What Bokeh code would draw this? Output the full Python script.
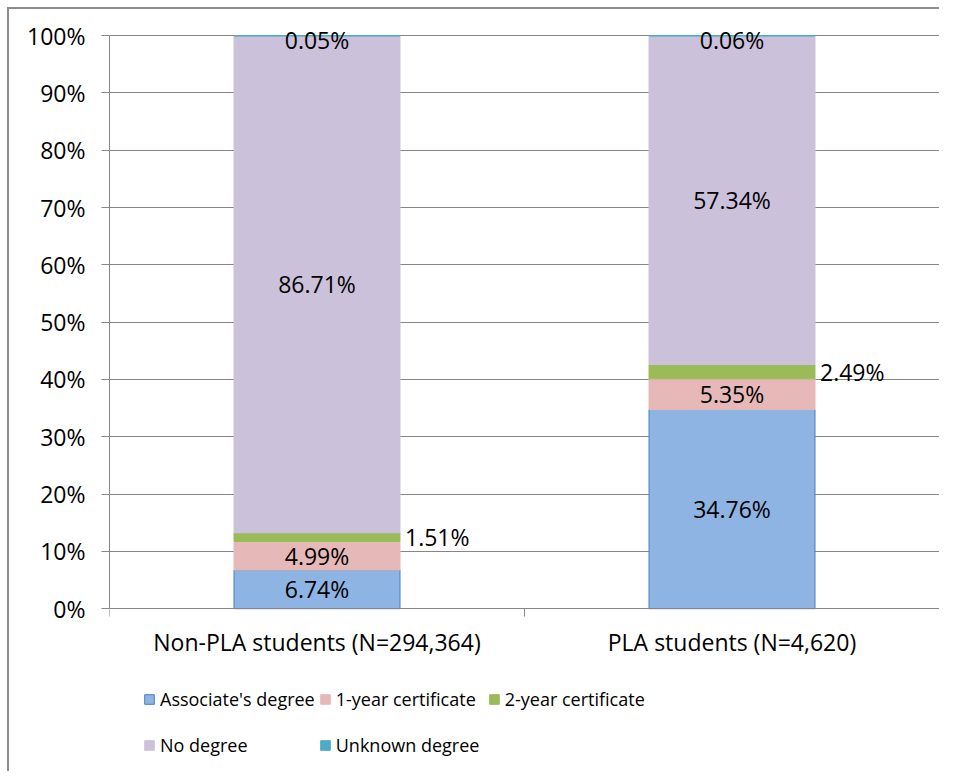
from bokeh.plotting import figure
from bokeh.models import (Range1d, LinearAxis, FixedTicker,
                          ColumnDataSource, Legend, LegendItem, CustomJSTickFormatter)
from bokeh.core.properties import value
from bokeh.embed import file_html
from bokeh.resources import INLINE

# ---- data ----
categories = ["Non-PLA students (N=294,364)", "PLA students (N=4,620)"]
series = ["Associate's degree", "1-year certificate", "2-year certificate", "No degree", "Unknown degree"]
associates = [6.74, 34.76]
one_year = [4.99, 5.35]
two_year = [1.51, 2.49]
no_degree = [86.71, 57.34]
unknown = [0.05, 0.06]
y_ticks = [0, 10, 20, 30, 40, 50, 60, 70, 80, 90, 100]

colors = ["#8EB4E3", "#E6B9B8", "#9BBB59", "#CCC1DA", "#4BACC6"]
line_colors = ["#4A7EBB", "#E6B9B8", "#9BBB59", "#CCC1DA", "#4BACC6"]
keys = ["a", "b", "c", "d", "e"]
FONT = "Open Sans"
FS = "23px"
LEG_FS = "18px"
BAR_W = 0.4

ncat = len(categories)
xpos = [i + 0.5 for i in range(ncat)]
data = dict(x=xpos, a=associates, b=one_year, c=two_year, d=no_degree, e=unknown)
src = ColumnDataSource(data)

p = figure(x_range=Range1d(0, ncat), y_range=Range1d(-28.07, 101.6),
           output_backend="svg", toolbar_location=None,
           width=930, height=762, frame_width=830, frame_height=743,
           min_border_left=100, min_border_top=17, min_border_right=0, min_border_bottom=2,
           x_axis_location=None, y_axis_location=None)
p.styles = {"border-left": "2px solid #8c8c8c", "border-top": "2px solid #8c8c8c",
            "border-right": "none", "border-bottom": "none", "outline": "none",
            "margin-left": "7px", "margin-top": "7px"}
p.outline_line_color = None
p.background_fill_color = "white"
p.border_fill_color = "white"

renderers = p.vbar_stack(keys, x="x", width=BAR_W, source=src, fill_color=colors,
                         line_color=line_colors, line_width=1)

# y axis
yax = LinearAxis(ticker=FixedTicker(ticks=y_ticks), bounds=(0, 100),
                 formatter=CustomJSTickFormatter(code="return tick.toFixed(0) + '%';"))
yax.axis_line_color = "#868686"
yax.major_tick_line_color = "#868686"
yax.major_tick_in = 0
yax.major_tick_out = 8
yax.minor_tick_line_color = None
yax.major_label_text_font = FONT
yax.major_label_text_font_size = FS
yax.major_label_text_color = "black"
yax.major_label_standoff = 16
p.add_layout(yax, "left")

# x tick marks at category boundaries (drawn on the 0% line)
xticks = LinearAxis(ticker=FixedTicker(ticks=list(range(ncat + 1))), fixed_location=0)
xticks.axis_line_color = "#868686"
xticks.major_tick_line_color = "#868686"
xticks.major_tick_in = 0
xticks.major_tick_out = 8
xticks.minor_tick_line_color = None
xticks.major_label_text_font_size = "0px"
xticks.major_label_standoff = 0
p.add_layout(xticks, "below")

# category labels
xax = LinearAxis(ticker=FixedTicker(ticks=xpos), fixed_location=0,
                 major_label_overrides={x: c for x, c in zip(xpos, categories)})
xax.axis_line_color = None
xax.major_tick_line_color = None
xax.major_tick_out = 0
xax.major_tick_in = 0
xax.minor_tick_line_color = None
xax.major_label_text_font = FONT
xax.major_label_text_font_size = FS
xax.major_label_text_color = "black"
xax.major_label_standoff = 17
p.add_layout(xax, "below")

p.xgrid.grid_line_color = None
p.ygrid.ticker = FixedTicker(ticks=y_ticks)
p.ygrid.grid_line_color = "#868686"

# labels
cum = [0.0] * ncat
inner = dict(x=[], y=[], t=[], dy=[])
side = dict(x=[], y=[], t=[])
vals = [associates, one_year, two_year, no_degree, unknown]
for si, v in enumerate(vals):
    for ci in range(ncat):
        yc = cum[ci] + v[ci] / 2
        t = f"{v[ci]:.2f}%"
        if si == 2:
            side["x"].append(xpos[ci] + BAR_W / 2)
            side["y"].append(yc)
            side["t"].append(t)
        else:
            inner["x"].append(xpos[ci])
            inner["y"].append(yc)
            inner["t"].append(t)
            inner["dy"].append(4 if si == 4 else 0)
        cum[ci] += v[ci]

p.text(x="x", y="y", text="t", y_offset="dy", source=ColumnDataSource(inner), text_align="center",
       text_baseline="middle", text_font=value(FONT), text_font_size=FS, text_color="black")
p.text(x="x", y="y", text="t", source=ColumnDataSource(side),
       x_offset=5, text_align="left", text_baseline="middle", text_font=value(FONT),
       text_font_size=FS, text_color="black")

# legend
items = [LegendItem(label=s, renderers=[r]) for s, r in zip(series, renderers)]
legend = Legend(items=items, location=(34, 3), orientation="horizontal", ncols=3)
legend.label_text_font = FONT
legend.label_text_font_size = LEG_FS
legend.label_text_color = "black"
legend.glyph_width = 12
legend.glyph_height = 12
legend.label_standoff = 5
legend.label_width = 148
legend.label_height = 42
legend.spacing = 4
legend.padding = 0
legend.margin = 0
legend.border_line_color = None
legend.background_fill_alpha = 0
p.add_layout(legend, "center")

open("out.html", "w").write(file_html(p, INLINE))
